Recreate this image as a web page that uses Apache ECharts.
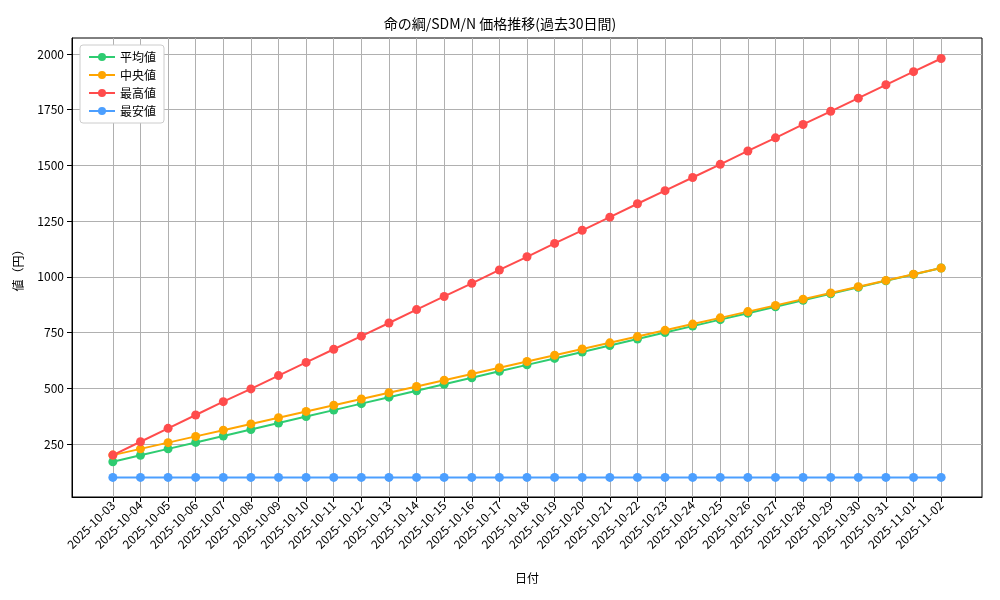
<!DOCTYPE html>
<html><head><meta charset="utf-8">
<script src="https://cdn.jsdelivr.net/npm/echarts@6/dist/echarts.min.js"></script>
<style>body{margin:0}#c{width:1000px;height:600px}</style></head>
<body><div id="c"></div>
<script>
const dates=['2025-10-03','2025-10-04','2025-10-05','2025-10-06','2025-10-07','2025-10-08','2025-10-09','2025-10-10','2025-10-11','2025-10-12','2025-10-13','2025-10-14','2025-10-15','2025-10-16','2025-10-17','2025-10-18','2025-10-19','2025-10-20','2025-10-21','2025-10-22','2025-10-23','2025-10-24','2025-10-25','2025-10-26','2025-10-27','2025-10-28','2025-10-29','2025-10-30','2025-10-31','2025-11-01','2025-11-02'];
const avgVals=[170,199,228,257,286,315,344,373,402,431,460,489,518,547,576,605,634,663,692,721,750,779,808,837,866,895,924,953,982,1011,1040];
const medVals=[200,228,256,284,312,340,368,396,424,452,480,508,536,564,592,620,648,676,704,732,760,788,816,844,872,900,928,956,984,1012,1040];
const maxVals=[200,260,320,380,440,497,557,616,675,734,793,853,912,971,1031,1090,1150,1209,1268,1328,1387,1446,1505,1565,1624,1684,1743,1802,1862,1921,1980];
const minVals=[100,100,100,100,100,100,100,100,100,100,100,100,100,100,100,100,100,100,100,100,100,100,100,100,100,100,100,100,100,100,100];
const yTicks=[250,500,750,1000,1250,1500,1750,2000];
const names=['平均値','中央値','最高値','最安値'];
const colors=['#2ecc71','#ffa500','#ff4c4c','#4c9fff'];
const F='Noto Sans CJK JP';
const idx=dates.map((d,i)=>i);
const mk=(n,vals,c)=>({name:n,type:'line',data:vals.map((v,i)=>[i,v]),symbol:'circle',symbolSize:9,
  itemStyle:{color:c},lineStyle:{color:c,width:2},z:10});
const ch=echarts.init(document.getElementById('c'));
ch.setOption({
  animation:false,textStyle:{fontFamily:F},
  title:{text:'命の綱/SDM/N 価格推移(過去30日間)',left:'center',top:12,textStyle:{fontFamily:F,fontSize:14,fontWeight:'normal',color:'#000'}},
  legend:{data:names,orient:'vertical',left:80,top:45,itemWidth:26,itemHeight:10,itemGap:6,
    backgroundColor:'#fff',borderColor:'#ccc',borderWidth:1,borderRadius:3,padding:[6,8],
    textStyle:{fontFamily:F,fontSize:12,color:'#000'}},
  grid:{left:72,right:18,top:38,bottom:103,show:true,borderColor:'#000',borderWidth:1},
  xAxis:{type:'value',min:-1.48,max:31.48,
    name:'日付',nameLocation:'middle',nameGap:75,nameTextStyle:{fontFamily:F,fontSize:12,color:'#000'},
    axisLine:{show:true,onZero:false,lineStyle:{color:'#000'}},
    axisTick:{show:true,customValues:idx,lineStyle:{color:'#000'}},
    axisLabel:{customValues:idx,rotate:45,margin:6,fontFamily:F,fontSize:12,color:'#000',formatter:v=>dates[Math.round(v)]},
    splitLine:{show:true,lineStyle:{color:'#b0b0b0'}}},
  yAxis:{type:'value',min:12,max:2072,
    name:'値（円）',nameLocation:'middle',nameGap:48,nameTextStyle:{fontFamily:F,fontSize:12,color:'#000'},
    axisLine:{show:true,onZero:false,lineStyle:{color:'#000'}},
    axisTick:{show:true,customValues:yTicks,lineStyle:{color:'#000'}},
    axisLabel:{customValues:yTicks,fontFamily:F,fontSize:12,color:'#000',formatter:v=>String(v)},
    splitLine:{show:true,lineStyle:{color:'#b0b0b0'}}},
  series:[mk(names[0],avgVals,colors[0]),mk(names[1],medVals,colors[1]),mk(names[2],maxVals,colors[2]),mk(names[3],minVals,colors[3])]
});
</script></body></html>
